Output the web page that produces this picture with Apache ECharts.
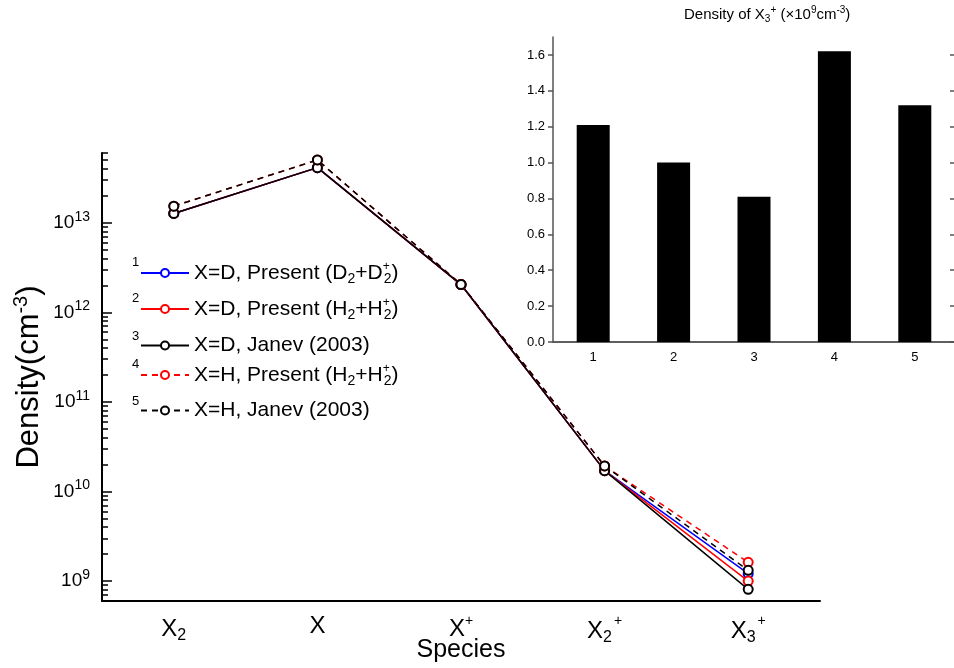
<!DOCTYPE html>
<html>
<head>
<meta charset="utf-8">
<script src="https://cdn.jsdelivr.net/npm/echarts@6/dist/echarts.min.js"></script>
<style>
  html, body { margin: 0; padding: 0; background: #fff; }
  #chart { width: 954px; height: 668px; }
</style>
</head>
<body>
<div id="chart"></div>
<script>
// Species on the horizontal axis
const speciesNames = ['X2', 'X', 'X+', 'X2+', 'X3+'];
const speciesTickLabels = ['{m|X}{sub|2}', '{m|X}', '{m|X}{sup|+}', '{m|X}{sub|2}{sup2|+}', '{m|X}{sub|3}{sup2|+}'];

// X3+ density for each case, in units of 1e9 cm^-3 (inset bars and last point of each curve)
const x3PlusDensity = [1.21, 1.00, 0.81, 1.62, 1.32];
const caseNumbers = ['1', '2', '3', '4', '5'];

// Densities (cm^-3) of X2, X, X+, X2+ for each case
const dPresentD2 = [1.27e13, 4.12e13, 2.04e12, 1.71e10];
const dPresentH2 = [1.27e13, 4.12e13, 2.04e12, 1.71e10];
const dJanev = [1.27e13, 4.12e13, 2.04e12, 1.71e10];
const hPresentH2 = [1.53e13, 5.02e13, 2.05e12, 1.93e10];
const hJanev = [1.53e13, 5.02e13, 2.05e12, 1.93e10];

const seriesNames = ['D-present-D2', 'D-present-H2', 'D-janev', 'H-present-H2', 'H-janev'];
const legendLabels = [
  'X=D, Present (D{sub|2}+D{supz|+}{sub|2})',
  'X=D, Present (H{sub|2}+H{supz|+}{sub|2})',
  'X=D, Janev (2003)',
  'X=H, Present (H{sub|2}+H{supz|+}{sub|2})',
  'X=H, Janev (2003)'
];

// Log-axis ticks
const majorTicks = [1e9, 1e10, 1e11, 1e12, 1e13];
const minorMultipliers = [2, 3, 4, 5, 6, 7, 8, 9];
const decadeStarts = [1e8, 1e9, 1e10, 1e11, 1e12, 1e13];
const insetTicks = [0, 0.2, 0.4, 0.6, 0.8, 1.0, 1.2, 1.4, 1.6];

const yMin = 6e8, yMax = 6e13;
const minorTicks = [];
decadeStarts.forEach(d => minorMultipliers.forEach(m => {
  const v = m * d;
  if (v >= yMin * 0.999 && v <= yMax * 1.001) minorTicks.push(v);
}));

const FONT = 'Liberation Sans, Arial, sans-serif';
const curveData = [dPresentD2, dPresentH2, dJanev, hPresentH2, hJanev]
  .map((arr, i) => arr.concat([x3PlusDensity[i] * 1e9]));
const curveColors = ['#0000ff', '#ff0000', '#000000', '#ff0000', '#000000'];
const curveDashed = [false, false, false, true, true];

const legendCenters = [273, 309, 347, 375, 412];

const legendRich = {
  sub: { fontSize: 14, fontFamily: FONT, color: '#000', padding: [12, 0, 0, 0] },
  supz: { fontSize: 12, fontFamily: FONT, color: '#000', padding: [0, 0, 12, 0], width: 1 }
};

const chart = echarts.init(document.getElementById('chart'), null, { renderer: 'canvas' });

const option = {
  animation: false,
  backgroundColor: '#fff',
  textStyle: { fontFamily: FONT },
  title: {
    text: 'Density of X{sub|3}{sup|+} (×10{sup|9}cm{sup|-3})',
    left: 679, top: 0,
    textStyle: {
      fontSize: 15, fontWeight: 'normal', color: '#000', fontFamily: FONT,
      rich: {
        sub: { fontSize: 10, fontFamily: FONT, padding: [9, 0, 0, 0] },
        sup: { fontSize: 10, fontFamily: FONT, padding: [0, 0, 8, 0] }
      }
    }
  },
  grid: [
    { left: 102, top: 153, right: 134, bottom: 67, outerBoundsMode: 'none' },
    { left: 553, top: 37, right: -1, bottom: 326, outerBoundsMode: 'none' }
  ],
  xAxis: [
    {
      type: 'category', gridIndex: 0, data: speciesNames,
      axisLine: { lineStyle: { color: '#000', width: 2 } },
      axisTick: { inside: true, alignWithLabel: true, length: 9, lineStyle: { color: '#000', width: 2 } },
      axisLabel: {
        margin: 13, color: '#000',
        formatter: (v, i) => speciesTickLabels[i],
        rich: {
          m: { fontSize: 24, fontFamily: FONT, color: '#000' },
          sub: { fontSize: 16, fontFamily: FONT, color: '#000', padding: [14, 0, 0, 0] },
          sup: { fontSize: 14, fontFamily: FONT, color: '#000', padding: [0, 0, 16, 0] },
          sup2: { fontSize: 14, fontFamily: FONT, color: '#000', padding: [0, 0, 20, 2] }
        }
      },
      name: 'Species', nameLocation: 'middle', nameGap: 37, nameMoveOverlap: false,
      nameTextStyle: { fontSize: 25, color: '#000', fontFamily: FONT }
    },
    {
      type: 'category', gridIndex: 1, data: caseNumbers,
      axisLine: { lineStyle: { color: '#555', width: 1.5 } },
      axisTick: { show: false },
      axisLabel: { fontSize: 13, color: '#000', margin: 9, fontFamily: FONT }
    },
    {
      type: 'category', gridIndex: 1, data: caseNumbers, position: 'top',
      axisLine: { lineStyle: { color: '#555', width: 1.5 } },
      axisTick: { show: false }, axisLabel: { show: false }
    }
  ],
  yAxis: [
    {
      type: 'log', gridIndex: 0, min: yMin, max: yMax, position: 'left',
      axisLine: { show: true, lineStyle: { color: '#000', width: 2 } },
      axisTick: { show: true, inside: true, length: 10, customValues: majorTicks, lineStyle: { color: '#000', width: 1.5 } },
      axisLabel: {
        customValues: majorTicks, margin: 12, color: '#000',
        formatter: v => '{b|10}{e|' + Math.round(Math.log10(v)) + '}',
        rich: {
          b: { fontSize: 19, fontFamily: FONT, color: '#000' },
          e: { fontSize: 14, fontFamily: FONT, color: '#000', padding: [0, 0, 12, 0] }
        }
      },
      splitLine: { show: false },
      name: 'Density(cm{sup|-3})', nameLocation: 'middle', nameGap: 55, nameRotate: 90, nameMoveOverlap: false,
      nameTextStyle: {
        fontSize: 31, color: '#000', fontFamily: FONT,
        rich: { sup: { fontSize: 20, fontFamily: FONT, color: '#000', padding: [0, 0, 16, 0] } }
      }
    },
    {
      type: 'log', gridIndex: 0, min: yMin, max: yMax, position: 'left',
      axisLine: { show: false },
      axisTick: { show: true, inside: true, length: 6, customValues: minorTicks, lineStyle: { color: '#000', width: 1.5 } },
      axisLabel: { show: false },
      splitLine: { show: false }
    },
    {
      type: 'value', gridIndex: 1, min: 0, max: 1.7, interval: 0.2, position: 'left',
      axisLine: { show: true, lineStyle: { color: '#555', width: 1.5 } },
      axisTick: { show: true, length: 5, customValues: insetTicks, lineStyle: { color: '#555', width: 1.5 } },
      axisLabel: { customValues: insetTicks, fontSize: 13, color: '#000', margin: 8, fontFamily: FONT, formatter: v => v.toFixed(1) },
      splitLine: { show: false }
    },
    {
      type: 'value', gridIndex: 1, min: 0, max: 1.7, interval: 0.2, position: 'right',
      axisLine: { show: true, lineStyle: { color: '#555', width: 1.5 } },
      axisTick: { show: true, inside: true, length: 5, customValues: insetTicks, lineStyle: { color: '#555', width: 1.5 } },
      axisLabel: { show: false },
      splitLine: { show: false }
    }
  ],
  legend: seriesNames.map((name, i) => ({
    data: [name], left: 140, top: legendCenters[i] - 12, padding: 0,
    itemWidth: 48, itemHeight: 10, selectedMode: false,
    formatter: () => legendLabels[i],
    textStyle: { fontSize: 21, color: '#000', fontFamily: FONT, rich: legendRich }
  })),
  graphic: caseNumbers.map((n, i) => ({
    type: 'text', left: 132, top: legendCenters[i] - 17,
    style: { text: n, fontSize: 13, fill: '#000', fontFamily: FONT }
  })),
  series: seriesNames.map((name, i) => ({
    name, type: 'line', xAxisIndex: 0, yAxisIndex: 0,
    data: curveData[i],
    symbol: 'emptyCircle', symbolSize: 9,
    itemStyle: { color: curveColors[i], borderWidth: 1.5 },
    lineStyle: { color: curveColors[i], width: 1.5, type: curveDashed[i] ? [6, 5] : 'solid' },
    emphasis: { disabled: true }
  })).concat([{
    type: 'bar', xAxisIndex: 1, yAxisIndex: 2, data: x3PlusDensity,
    barWidth: 33, itemStyle: { color: '#000' }, emphasis: { disabled: true }
  }])
};

chart.setOption(option);
</script>
</body>
</html>
